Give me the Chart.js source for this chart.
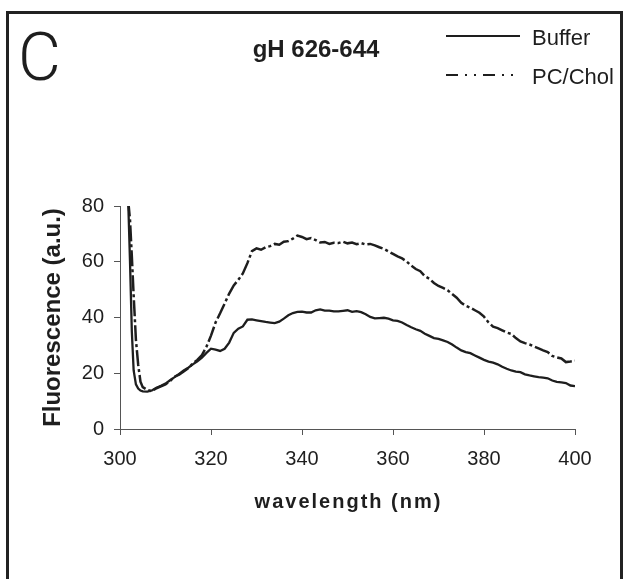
<!DOCTYPE html>
<html>
<head>
<meta charset="utf-8">
<script src="https://cdn.jsdelivr.net/npm/chart.js@4.4.1/dist/chart.umd.min.js"></script>
<style>
    html, body { margin: 0; padding: 0; background: #fff; overflow: hidden; }
    .wrap { position: relative; width: 623px; height: 579px; }
    .frame {
        position: absolute; left: 6px; top: 11px; width: 617px; height: 620px;
        box-sizing: border-box; border: 3px solid #222; border-bottom: none;
        pointer-events: none;
    }
    canvas { position: absolute; left: 0; top: 0; }
</style>
</head>
<body>
<div class="wrap">
    <canvas class="my-chart" width="623" height="579"></canvas>
    <div class="frame"></div>
</div>
<script>
const wavelength = [
    301.8, 302.2, 302.6, 303, 303.5, 304, 304.5, 305, 306,
    307, 308, 309, 310, 311, 312, 313, 314, 315, 316,
    317, 318, 319, 320, 321, 322, 323, 324, 325, 326,
    327, 328, 329, 330, 331, 332, 333, 334, 335, 336,
    337, 338, 339, 340, 341, 342, 343, 344, 345, 346,
    347, 348, 349, 350, 351, 352, 353, 354, 355, 356,
    357, 358, 359, 360, 361, 362, 363, 364, 365, 366,
    367, 368, 369, 370, 371, 372, 373, 374, 375, 376,
    377, 378, 379, 380, 381, 382, 383, 384, 385, 386,
    387, 388, 389, 390, 391, 392, 393, 394, 395, 396,
    397, 398, 399, 400
];

const buffer = [
    82, 60, 35, 21, 16, 14.5, 13.8, 13.5, 13.4,
    13.8, 14.8, 15.5, 16.3, 17.5, 18.6, 19.8, 21, 22, 23.2,
    24.3, 25.6, 27.3, 28.8, 28.5, 28, 28.8, 31, 34.5, 36,
    36.8, 39.2, 39.3, 39, 38.7, 38.4, 38.2, 38, 38.5, 39.6,
    40.8, 41.6, 42, 42.1, 41.8, 41.8, 42.6, 42.9, 42.5, 42.5,
    42.2, 42.2, 42.4, 42.6, 42, 42.3, 41.9, 41.2, 40.2, 39.7,
    39.8, 39.9, 39.6, 39, 38.8, 38.2, 37.3, 36.5, 35.8, 35.2,
    34.2, 33.4, 32.6, 32.3, 31.8, 31.2, 30.3, 29.2, 28.2, 27.6,
    27.2, 26.4, 25.6, 24.8, 24.2, 23.8, 23.2, 22.3, 21.6, 21,
    20.6, 20.4, 19.6, 19.2, 18.9, 18.6, 18.4, 18.2, 17.4, 16.9,
    16.7, 16.5, 15.6, 15.4
];

const pcChol = [
    82, 75, 62, 48, 32, 23, 17, 15, 14,
    13.6, 14.6, 15.3, 16, 17.2, 18.8, 19.5, 20.6, 21.8, 23.5,
    24.8, 26.5, 29.5, 33.5, 38.2, 41.5, 45, 48.6, 51.5, 53.5,
    55.8, 59.5, 63.8, 64.8, 64.3, 65.2, 65.6, 66.4, 66.1, 67.2,
    67.4, 68.3, 69.4, 68.9, 68.1, 68.5, 67.8, 66.9, 67.1, 66.4,
    66.8, 66.7, 67.2, 66.6, 66.9, 66.3, 66.7, 66.2, 66.4, 65.9,
    65.2, 64.6, 63.7, 62.8, 61.9, 61.2, 60.1, 58.6, 57.4, 56.6,
    54.8, 53.9, 52.4, 51.3, 50.6, 49.8, 48.4, 47.1, 45.3, 44.2,
    43.5, 42.6, 41.7, 40.3, 38.2, 36.7, 36.2, 35.4, 34.6, 34.1,
    32.6, 31.4, 30.8, 30.3, 29.6, 28.9, 28.2, 27.6, 26.2, 25.7,
    25.3, 24, 24.2, 24.5
];

const seriesNames = ['Buffer', 'PC/Chol'];
const xTicks = [300, 320, 340, 360, 380, 400];
const yTicks = [0, 20, 40, 60, 80];

const myChart = document.querySelector('.my-chart');
const ink = '#1e1e1e';
const axisGrey = '#555';
const legendDash = [[], [12, 7, 2, 7, 2, 7]];

function toPoints(values) {
    return values.map((v, i) => ({ x: wavelength[i], y: v }));
}

// panel letter, title, legend and x-axis label (letter-spaced)
const decorations = {
    id: 'decorations',
    afterDraw(chart) {
        const ctx = chart.ctx;
        ctx.save();
        ctx.fillStyle = ink;

        ctx.font = '300 66px Roboto, "Liberation Sans", sans-serif';
        ctx.textAlign = 'left';
        ctx.textBaseline = 'alphabetic';
        ctx.fillText('C', 18, 80);

        ctx.font = 'bold 24px "Liberation Sans", Arial, sans-serif';
        ctx.textAlign = 'center';
        ctx.fillText('gH 626-644', 316, 57);

        const rows = [36, 75];
        chart.data.datasets.forEach((ds, i) => {
            ctx.beginPath();
            ctx.strokeStyle = ds.borderColor;
            ctx.lineWidth = 2;
            ctx.setLineDash(legendDash[i]);
            ctx.moveTo(446, rows[i]);
            ctx.lineTo(520, rows[i]);
            ctx.stroke();
            ctx.setLineDash([]);
            ctx.font = '22px "Liberation Sans", Arial, sans-serif';
            ctx.textAlign = 'left';
            ctx.fillText(ds.label, 532, rows[i] + 9);
        });

        const area = chart.chartArea;
        ctx.font = 'bold 20px "Liberation Sans", Arial, sans-serif';
        ctx.letterSpacing = '2px';
        ctx.textAlign = 'center';
        ctx.fillText('wavelength (nm)', (area.left + area.right) / 2 + 1, 508);
        ctx.restore();
    }
};

new Chart(myChart, {
    type: 'line',
    data: {
        datasets: [{
            label: seriesNames[0],
            data: toPoints(buffer),
            borderColor: ink,
            borderWidth: 2.3,
            pointRadius: 0,
            tension: 0
        }, {
            label: seriesNames[1],
            data: toPoints(pcChol),
            borderColor: ink,
            borderWidth: 2.5,
            borderDash: [16, 3, 3, 3],
            pointRadius: 0,
            tension: 0
        }]
    },
    options: {
        responsive: false,
        animation: false,
        layout: {
            padding: { left: 0, right: 48, top: 206, bottom: 0 }
        },
        plugins: {
            legend: { display: false },
            title: { display: false },
            tooltip: { enabled: false }
        },
        scales: {
            x: {
                type: 'linear',
                min: xTicks[0],
                max: xTicks[xTicks.length - 1],
                afterFit: (scale) => { scale.height = 150; },
                afterBuildTicks: (scale) => { scale.ticks = xTicks.map(v => ({ value: v })); },
                grid: { drawOnChartArea: false, tickLength: 6, color: axisGrey },
                border: { color: axisGrey, width: 1 },
                ticks: {
                    color: ink,
                    padding: 12,
                    maxRotation: 0,
                    font: { family: '"Liberation Sans", Arial, sans-serif', size: 20 }
                }
            },
            y: {
                min: yTicks[0],
                max: yTicks[yTicks.length - 1],
                afterFit: (scale) => { scale.width = 120; },
                afterBuildTicks: (scale) => { scale.ticks = yTicks.map(v => ({ value: v })); },
                grid: { drawOnChartArea: false, tickLength: 6, color: axisGrey },
                border: { color: axisGrey, width: 1 },
                ticks: {
                    color: ink,
                    padding: 10,
                    font: { family: '"Liberation Sans", Arial, sans-serif', size: 20 }
                },
                title: {
                    display: true,
                    text: 'Fluorescence (a.u.)',
                    color: ink,
                    padding: { top: 39, bottom: 0 },
                    font: { family: '"Liberation Sans", Arial, sans-serif', size: 24, weight: 'bold' }
                }
            }
        }
    },
    plugins: [decorations]
});
</script>
</body>
</html>
